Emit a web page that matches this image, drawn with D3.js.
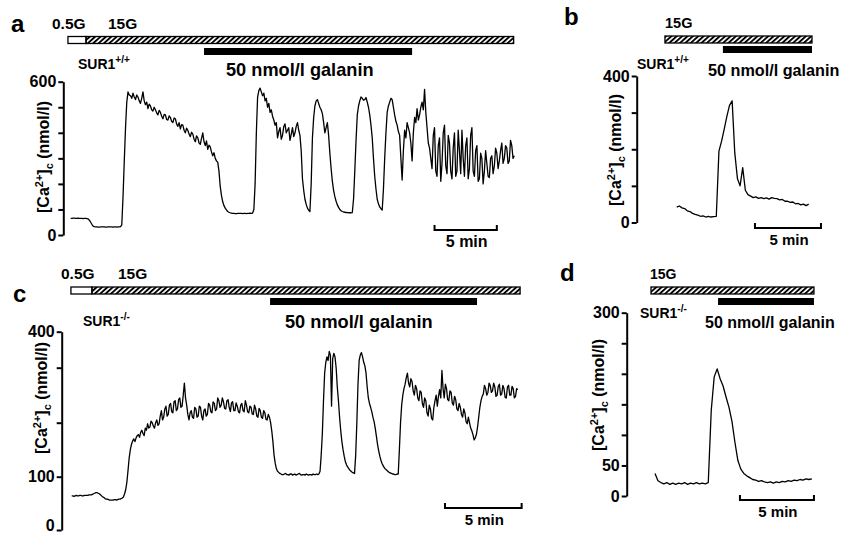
<!DOCTYPE html>
<html>
<head>
<meta charset="utf-8">
<script src="https://cdn.jsdelivr.net/npm/d3@7"></script>
<style>
  body { margin: 0; background: #fff; }
  svg { display: block; }
  text { font-family: "Liberation Sans", Arial, sans-serif; font-weight: bold; fill: #000; }
</style>
</head>
<body>
<div id="chart"></div>
<script>
// [Ca2+]c traces (nmol/l), sampled at a fixed step (min)
const aStep = 0.1;
const aCa = [65,65,66,66,65,65,66,65,65,65,64,65,65,64,63,58,50,42,35,33,
  32,32,31,31,32,32,32,32,31,31,32,32,32,32,31,32,32,31,32,32,33,40,
  150,290,420,520,560,548,545,535,
  555,540,530,548,540,525,515,535,560,525,510,520,495,512,505,490,485,500,490,478,
  470,488,480,465,455,472,470,452,450,466,460,445,440,458,455,435,425,440,415,432,
  430,410,400,418,410,395,385,402,395,375,365,388,380,360,355,378,400,365,350,368,
  335,352,345,325,310,322,300,290,285,250,
  190,155,130,115,105,98,92,89,87,86,85,85,84,84,85,85,85,85,84,85,85,84,85,85,86,85,86,100,
  200,400,540,565,575,560,545,555,525,535,500,515,480,490,465,450,430,440,380,405,
  420,375,390,425,435,400,410,420,370,395,420,385,400,425,440,410,390,330,
  220,175,140,120,105,97,92,200,
  380,460,505,525,530,515,500,490,475,440,400,420,440,390,
  320,260,210,175,150,132,118,108,100,95,92,90,89,88,88,87,87,87,88,140,
  250,370,470,505,525,540,535,528,530,538,520,500,470,430,380,300,
  230,180,140,122,110,103,98,180,
  300,400,480,505,520,535,530,500,470,445,430,405,390,300,215,330,410,380,440,420,
  400,360,290,400,460,440,495,450,470,500,520,490,570,480,420,360,340,300,
  260,390,420,250,230,350,380,210,280,400,430,270,240,390,360,250,220,340,400,230,
  250,410,330,240,410,300,230,350,380,220,260,390,420,250,230,330,350,210,220,320,
  300,200,250,330,280,230,225,300,310,240,270,340,320,260,290,330,360,280,300,350,
  340,280,290,370,350,300,310];

const bStep = 0.2;
const bCa = [42,45,40,38,32,30,25,22,20,17,18,15,17,15,16,17,195,222,255,290,
  320,332,190,120,100,150,88,76,72,68,70,66,68,65,67,64,68,66,65,62,
  63,58,58,55,56,51,52,48,50,46,50];

const cStep = 0.075;
const cCa = [64,64,63,64,65,64,64,65,65,64,64,65,65,65,65,66,66,66,67,68,
  69,70,70,69,68,66,64,62,61,59,58,58,57,56,56,56,56,57,57,56,
  57,58,58,59,60,62,68,76,90,112,135,150,160,166,170,165,172,176,178,173,
  182,186,180,176,190,186,198,190,192,203,200,194,190,200,205,195,198,212,222,205,
  210,225,230,212,215,232,235,220,218,238,240,222,225,242,245,228,230,250,272,245,
  232,215,205,218,222,210,208,228,225,210,212,230,228,212,205,222,225,212,215,235,
  232,220,218,238,235,222,225,245,240,228,232,245,238,226,225,240,242,228,220,236,
  238,222,222,236,230,220,218,232,235,222,220,240,232,220,218,230,228,216,215,232,
  225,212,210,226,222,210,208,222,218,206,205,215,210,200,185,165,140,125,115,110,
  108,106,105,104,104,105,106,104,104,103,105,105,103,104,105,103,104,105,106,104,
  103,104,104,103,105,104,103,104,104,103,105,104,104,105,104,105,
  110,140,180,240,290,315,330,320,345,335,230,325,340,330,300,265,240,210,185,165,
  150,138,128,122,118,115,112,110,108,107,106,140,
  200,270,320,335,342,330,315,305,290,265,245,235,228,220,210,202,190,175,160,148,
  138,130,124,120,116,114,112,110,108,107,106,105,105,104,104,105,105,150,
  200,232,250,262,270,282,290,272,265,280,275,258,250,268,262,245,240,258,255,235,
  228,245,240,218,212,232,225,208,205,228,240,250,230,248,260,245,295,262,245,270,
  262,242,240,258,255,236,232,248,242,225,222,235,228,215,210,225,218,202,198,210,
  200,190,185,178,168,172,178,192,210,228,240,248,252,268,262,250,255,272,268,255,
  258,272,265,248,250,266,270,250,252,268,262,246,245,265,268,250,250,266,262,245,
  248,262,260];

const dStep = 0.2;
const dCa = [37,25,22,20,22,19,21,19,21,20,22,19,21,20,22,20,21,20,22,140,
  195,208,192,180,162,145,122,88,58,44,37,33,30,27,26,24,25,23,22,23,
  21,23,22,24,23,25,24,26,25,27,26,28,27,28];

// y axis ticks and the ones that carry a label
const aTicks = [0,100,200,300,400,500,600], aTickLabels = [0,600];
const bTicks = [0,100,200,300,400], bTickLabels = [0,400];
const cTicks = [0,100,200,300,400], cTickLabels = [0,100,400];
const dTicks = [0,50,100,150,200,250,300], dTickLabels = [0,50,300];

// perfusion protocol, [start, end] in min from trace start
const aLowGlucose = [-0.22, 1.23], aHighGlucose = [1.23, 35.55], aGalanin = [10.7, 27.4];
const bHighGlucose = [-0.89, 10.25], bGalanin = [3.5, 10.25];
const cLowGlucose = [-0.05, 1.32], cHighGlucose = [1.32, 29.25], cGalanin = [12.94, 26.44];
const dHighGlucose = [-0.27, 10.74], dGalanin = [4.26, 10.74];

// 5 min scale bars, start in min
const aScaleStart = 29.2, bScaleStart = 5.93, cScaleStart = 24.35, dScaleStart = 5.74;

const width = 841, height = 535;
const svg = d3.select("#chart").append("svg")
  .attr("width", width)
  .attr("height", height);

svg.append("defs").append("pattern")
    .attr("id", "hatch")
    .attr("patternUnits", "userSpaceOnUse")
    .attr("width", 3.6)
    .attr("height", 3.6)
    .attr("patternTransform", "rotate(48)")
  .append("rect")
    .attr("width", 1.9)
    .attr("height", 3.6)
    .attr("fill", "#000");

function label(g, txt, x, y, size, anchor) {
  return g.append("text")
    .attr("x", x)
    .attr("y", y)
    .attr("font-size", size)
    .attr("text-anchor", anchor || "start")
    .text(txt);
}

function genotype(g, sup, x, y) {
  const t = g.append("text").attr("x", x).attr("y", y).attr("font-size", 14);
  t.append("tspan").text("SUR1");
  t.append("tspan").attr("font-size", 10).attr("dy", -6).text(sup);
}

function yTitle(g, cx, cy) {
  const t = g.append("text")
    .attr("transform", `translate(${cx},${cy}) rotate(-90)`)
    .attr("text-anchor", "middle")
    .attr("font-size", 16);
  t.append("tspan").text("[Ca");
  t.append("tspan").attr("font-size", 11).attr("dy", -6).text("2+");
  t.append("tspan").attr("dy", 6).text("]");
  t.append("tspan").attr("font-size", 11).attr("dy", 4).text("c");
  t.append("tspan").attr("dy", -4).text(" (nmol/l)");
}

function drawPanel(p) {
  const g = svg.append("g");
  const span = (p.values.length - 1) * p.step;
  const x = d3.scaleLinear().domain([0, span]).range([p.x0, p.x0 + span * p.pxPerMin]);
  const y = d3.scaleLinear().domain(p.yDomain).range(p.yRange);

  // y axis
  const ax = g.append("g")
    .attr("transform", `translate(${p.axisX},0)`)
    .call(d3.axisLeft(y)
      .tickValues(p.ticks)
      .tickSize(5)
      .tickSizeOuter(0)
      .tickPadding(2)
      .tickFormat((d) => p.tickLabels.includes(d) ? d : ""));
  ax.select(".domain").attr("stroke-width", 2);
  ax.selectAll(".tick line").attr("stroke-width", 2);
  ax.selectAll(".tick text")
    .attr("font-family", "'Liberation Sans', Arial, sans-serif")
    .attr("font-weight", "bold")
    .attr("font-size", 16)
    .attr("y", (d) => d === 0 ? -(p.zeroShift || 0) : 0);

  // trace
  const lineBuilder = d3.line()
    .x((d, i) => x(i * p.step))
    .y((d) => y(d));
  g.append("path")
    .datum(p.values)
    .attr("d", lineBuilder)
    .attr("fill", "none")
    .attr("stroke", "#000")
    .attr("stroke-width", 1.3)
    .attr("stroke-linejoin", "round");

  // glucose bars
  const bars = [];
  if (p.low) bars.push({ s: p.low, fill: "#fff" });
  bars.push({ s: p.high, fill: "url(#hatch)" });
  g.selectAll(".glc")
    .data(bars)
    .enter()
    .append("rect")
      .attr("class", "glc")
      .attr("x", (d) => x(d.s[0]))
      .attr("width", (d) => x(d.s[1]) - x(d.s[0]))
      .attr("y", p.glcY)
      .attr("height", 7)
      .attr("fill", (d) => d.fill)
      .attr("stroke", "#000")
      .attr("stroke-width", 1.3);

  // galanin bar
  g.append("rect")
    .attr("x", x(p.galanin[0]))
    .attr("width", x(p.galanin[1]) - x(p.galanin[0]))
    .attr("y", p.galY)
    .attr("height", 7)
    .attr("fill", "#000");

  // 5 min scale bar
  const sx0 = x(p.scaleStart), sx1 = x(p.scaleStart + 5);
  g.append("path")
    .attr("d", `M${sx0},${p.scaleY - 5}V${p.scaleY}H${sx1}V${p.scaleY - 5}`)
    .attr("fill", "none")
    .attr("stroke", "#000")
    .attr("stroke-width", 2);
  label(g, "5 min", (sx0 + sx1) / 2 + 1, p.scaleY + 17, p.scaleFont, "middle");

  label(g, p.letter, p.letterX, p.letterY, 24);
  if (p.lowLabelX) label(g, "0.5G", p.lowLabelX, p.glcY - 8, p.glcFont);
  label(g, "15G", p.highLabelX, p.glcY - 8, p.glcFont);
  genotype(g, p.sup, p.genoX, p.genoY);
  label(g, "50 nmol/l galanin", p.galLabelX, p.galLabelY, p.galFont);
  yTitle(g, p.titleX, p.titleY);
}

drawPanel({ letter: "a", letterX: 11, letterY: 32, values: aCa, step: aStep, x0: 70.7, pxPerMin: 12.46,
  yDomain: [0, 600], yRange: [235, 81.7], ticks: aTicks, tickLabels: aTickLabels, axisX: 63.3,
  low: aLowGlucose, high: aHighGlucose, glcY: 36.5, galanin: aGalanin, galY: 48,
  scaleStart: aScaleStart, scaleY: 230, scaleFont: 16, lowLabelX: 52, highLabelX: 108, glcFont: 15.5,
  sup: "+/+", genoX: 78, genoY: 69, galLabelX: 226, galLabelY: 76, galFont: 18.2, titleX: 49, titleY: 157 });

drawPanel({ letter: "b", letterX: 564, letterY: 25, values: bCa, step: bStep, x0: 676.7, pxPerMin: 13.2,
  yDomain: [0, 400], yRange: [222.5, 76], ticks: bTicks, tickLabels: bTickLabels, axisX: 636.7,
  high: bHighGlucose, glcY: 36, galanin: bGalanin, galY: 46,
  scaleStart: bScaleStart, scaleY: 228, scaleFont: 15, highLabelX: 665, glcFont: 14.5,
  sup: "+/+", genoX: 637, genoY: 69, galLabelX: 708, galLabelY: 76, galFont: 16.2, titleX: 621, titleY: 150 });

drawPanel({ letter: "c", letterX: 13, letterY: 302, values: cCa, step: cStep, x0: 71.7, pxPerMin: 15.33,
  yDomain: [0, 100, 200, 300, 400], yRange: [530, 476.7, 422.7, 367.7, 331.7], ticks: cTicks, tickLabels: cTickLabels, axisX: 61.7,
  low: cLowGlucose, high: cHighGlucose, glcY: 287, galanin: cGalanin, galY: 298, zeroShift: 5,
  scaleStart: cScaleStart, scaleY: 508, scaleFont: 15, lowLabelX: 61, highLabelX: 118, glcFont: 15.5,
  sup: "-/-", genoX: 83, genoY: 326, galLabelX: 285, galLabelY: 328, galFont: 18.2, titleX: 47, titleY: 398 });

drawPanel({ letter: "d", letterX: 560, letterY: 281, values: dCa, step: dStep, x0: 655, pxPerMin: 14.8,
  yDomain: [0, 300], yRange: [496, 312.7], ticks: dTicks, tickLabels: dTickLabels, axisX: 626.7,
  high: dHighGlucose, glcY: 287, galanin: dGalanin, galY: 298,
  scaleStart: dScaleStart, scaleY: 500, scaleFont: 15, highLabelX: 650, glcFont: 14,
  sup: "-/-", genoX: 640, genoY: 318, galLabelX: 705, galLabelY: 328, galFont: 16, titleX: 604, titleY: 395 });
</script>
</body>
</html>
